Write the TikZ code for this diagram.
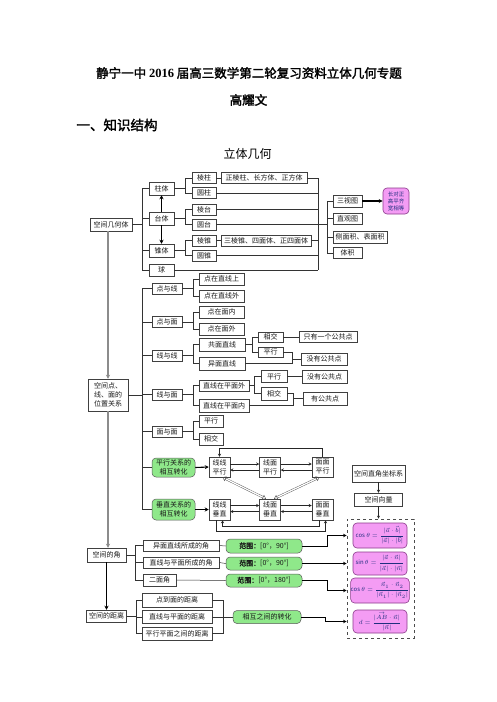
\documentclass[tikz,border=0pt]{standalone}
\usepackage{amsmath}
\usepackage{fontspec}
\setmainfont{Noto Sans CJK SC}[AutoFakeBold=2]
\newfontfamily\tnr{Liberation Serif}
\usepackage{xcolor}
\usepackage{tikz}
\usetikzlibrary{arrows.meta}
\definecolor{trunkgray}{HTML}{8C8C8C}
\definecolor{greenfill}{HTML}{8FE88A}
\definecolor{pinkfill}{HTML}{F49CF4}
\definecolor{pinkdraw}{HTML}{8A3A8A}
\definecolor{formula}{HTML}{1F2F7F}

\begin{document}
\begin{tikzpicture}[x=1pt, y=-1pt,
        box/.style={
            rectangle,
            draw=black!75,
            line width=0.5pt,
            fill=white,
            inner sep=0pt,
            align=center,
            text=black!90,
            font=\fontsize{7}{9}\selectfont,
            minimum height=11pt
        },
        wd/.style={minimum width=#1pt},
        ht/.style={minimum height=#1pt},
        shadowbox/.style={box, line width=0.9pt},
        greenbox/.style={box, rounded corners=4pt, fill=greenfill, draw=black!65},
        pinkbox/.style={
            box,
            rounded corners=4pt,
            fill=pinkfill,
            draw=pinkdraw,
            line width=0.6pt,
            text=formula,
            font=\fontsize{6}{7}\selectfont
        },
        link/.style={draw=black!80, line width=0.5pt},
        trunk/.style={draw=trunkgray, line width=1.6pt, -{Stealth[length=4pt, width=4pt]}},
        arrow/.style={draw=black!85, line width=0.5pt, -{Stealth[length=3pt, width=3pt]}},
        heavy/.style={draw=black, line width=1.1pt, -{Stealth[length=4pt, width=4pt]}},
        farrow/.style={draw=black, line width=0.9pt, -{Stealth[length=3.5pt, width=3.5pt]}},
        hollow/.style={
            draw=black!70,
            line width=0.4pt,
            double=white,
            double distance=1.3pt,
            {Triangle[open, length=3.5pt, width=5pt]}-{Triangle[open, length=3.5pt, width=5pt]}
        }
    ]
        \useasboundingbox (0,0) rectangle (496,702);

        % Title
        \node[font=\fontsize{12.5}{15}\selectfont\bfseries] (title) at (249,73) {静宁一中 {\tnr\bfseries 2016} 届高三数学第二轮复习资料立体几何专题};
        \node[font=\fontsize{12.5}{15}\selectfont\bfseries] (author) at (248.5,100) {高耀文};
        \node[font=\fontsize{13.5}{16}\selectfont\bfseries, anchor=west] (part) at (73,125) {一、知识结构};
        \node[font=\fontsize{12}{14}\selectfont] (head) at (247.5,154) {立体几何};

        % Spines
        \coordinate (s1) at (142,0);
        \coordinate (s2) at (185,0);
        \coordinate (s3) at (318,0);
        \coordinate (s4) at (327,0);
        \coordinate (s5) at (193,0);
        \coordinate (s6) at (252,0);
        \coordinate (s7) at (292,0);
        \coordinate (s8) at (254,0);
        \coordinate (s9) at (293,0);
        \coordinate (s10) at (135,0);
        \coordinate (s11) at (136,0);
        \coordinate (s12) at (223,0);

        % Main column
        \node[box, wd=42, ht=13] (kj) at (111,224.5) {空间几何体};
        \node[box, wd=40, ht=32, align=left] (wz) at (108,395) {空间点、\\线、面的\\位置关系};
        \node[box, wd=39, ht=14] (jiao) at (106.5,555) {空间的角};
        \node[box, wd=40, ht=12] (juli) at (106.5,616) {空间的距离};

        % Solids
        \node[box, wd=25, ht=13] (zt) at (161.5,188.5) {柱体};
        \node[box, wd=25, ht=13] (tt) at (161.5,218.5) {台体};
        \node[box, wd=25, ht=13] (zhui) at (161.5,250.5) {锥体};
        \node[box, wd=25, ht=12] (qiu) at (161.5,270) {球};
        \node[box, wd=24] (lz) at (204,178) {棱柱};
        \node[shadowbox, wd=24] (yz) at (204,193) {圆柱};
        \node[box, wd=24] (lt) at (204,209.5) {棱台};
        \node[shadowbox, wd=24] (yt) at (204,224.5) {圆台};
        \node[box, wd=24] (lzh) at (204,240.5) {棱锥};
        \node[shadowbox, wd=24] (yzh) at (204,255.5) {圆锥};
        \node[box, wd=86] (zlz) at (264,178) {正棱柱、长方体、正方体};
        \node[box, wd=90] (slz) at (266,240.5) {三棱锥、四面体、正四面体};
        \node[box, wd=29, ht=12] (stt) at (347.5,201) {三视图};
        \node[box, wd=29] (zgt) at (347.5,218.5) {直观图};
        \node[shadowbox, wd=54, ht=12] (cmj) at (360,237) {侧面积、表面积};
        \node[box, wd=29] (tj) at (347.5,253) {体积};
        \node[pinkbox, wd=26, ht=26, font=\fontsize{5.5}{7}\selectfont] (szd) at (396,201) {长对正\\高平齐\\宽相等};

        \draw[link] (kj.east) -- (kj.east -| s1);
        \draw[link] (zt.west) -| (qiu.west -| s1) -- (qiu.west);
        \foreach \n in {tt, zhui} \draw[link] (\n.west -| s1) -- (\n.west);
        \draw[heavy] (tt.north) -- (zt.south);
        \draw[heavy] (tt.south) -- (zhui.north);
        \foreach \p/\a/\b in {zt/lz/yz, tt/lt/yt, zhui/lzh/yzh} {
            \draw[link] (\p.east) -- (\p.east -| s2);
            \draw[link] (\a.west) -| (\b.west -| s2) -- (\b.west);
        }
        \draw[link] (lz.east) -- (zlz.west);
        \draw[link] (lzh.east) -- (slz.west);
        \draw[link] (zlz.east) -| (qiu.east -| s3);
        \draw[link, line width=0.9pt] (qiu.east) -- (qiu.east -| s3);
        \foreach \n in {yz, lt, yt, slz, yzh} \draw[link] (\n.east) -- (\n.east -| s3);
        \draw[link] (yt.east -| s3) -- (yt.east -| s4);
        \draw[link] (stt.west) -| (tj.west -| s4) -- (tj.west);
        \foreach \n in {zgt, cmj} \draw[link] (\n.west -| s4) -- (\n.west);
        \draw[heavy] (stt.east) -- (szd.west);

        % Points, lines, planes
        \node[box, wd=30] (dyx) at (167,288.5) {点与线};
        \node[box, wd=30] (dym) at (167,322) {点与面};
        \node[box, wd=30] (xyx) at (167,355.5) {线与线};
        \node[box, wd=30] (xym) at (167,394.5) {线与面};
        \node[box, wd=30] (mym) at (167,431.5) {面与面};
        \node[greenbox, wd=43, ht=19] (pxzh) at (173.5,467.5) {平行关系的\\相互转化};
        \node[greenbox, wd=43, ht=21] (czzh) at (173.5,509.5) {垂直关系的\\相互转化};
        \node[box, wd=45, ht=12] (dzx) at (221.5,279) {点在直线上};
        \node[box, wd=45, ht=12] (dzxw) at (221.5,296) {点在直线外};
        \node[box, wd=45, ht=12] (dzm) at (221.5,312) {点在面内};
        \node[box, wd=45, ht=12] (dzmw) at (221.5,329) {点在面外};
        \node[shadowbox, wd=46, ht=13] (gm) at (222,344.5) {共面直线};
        \node[shadowbox, wd=46, ht=13] (ym) at (222,363.5) {异面直线};
        \node[box, wd=25, ht=10] (xj1) at (270.5,337) {相交};
        \node[shadowbox, wd=25, ht=10] (px1) at (270.5,352) {平行};
        \node[box, wd=58, ht=11] (yg) at (328,337) {只有一个公共点};
        \node[box, wd=46, ht=12] (mg) at (324,359) {没有公共点};
        \node[box, wd=50, ht=11] (zwm) at (224,385.5) {直线在平面外};
        \node[shadowbox, wd=50, ht=13] (znm) at (224,405.5) {直线在平面内};
        \node[box, wd=26, ht=12] (px2) at (274,376.5) {平行};
        \node[box, wd=26, ht=13] (xj2) at (274,393.5) {相交};
        \node[box, wd=45, ht=13] (mg2) at (324.5,376.5) {没有公共点};
        \node[box, wd=44, ht=13] (yg2) at (325,398.5) {有公共点};
        \node[box, wd=24, ht=12] (px3) at (211,421) {平行};
        \node[box, wd=24, ht=12] (xj3) at (211,439) {相交};

        \draw[trunk] (kj.south -| wz.north) -- (wz.north);
        \draw[link] (wz.east) -- (wz.east -| s1);
        \draw[link] (dyx.west) -| (czzh.west -| s1) -- (czzh.west);
        \foreach \n in {dym, xyx, xym, mym, pxzh} \draw[link] (\n.west -| s1) -- (\n.west);
        \foreach \p/\a/\b in {dyx/dzx/dzxw, dym/dzm/dzmw, xyx/gm/ym, xym/zwm/znm, mym/px3/xj3} {
            \draw[link] (\p.east) -- (\p.east -| s5);
            \draw[link] (\a.west) -| (\b.west -| s5) -- (\b.west);
        }
        \draw[link] (gm.east) -- (gm.east -| s6);
        \draw[link] (xj1.west) -| (px1.west -| s6) -- (px1.west);
        \draw[link] (xj1.east) -- (yg.west);
        \draw[link] (px1.east) -| (ym.east -| s7) -- (ym.east);
        \draw[link] (mg.west -| s7) -- (mg.west);
        \draw[link] (zwm.east) -- (zwm.east -| s8);
        \draw[link] (px2.west) -| (xj2.west -| s8) -- (xj2.west);
        \draw[link] (px2.east) -- (mg2.west);
        \draw[link] (xj2.east) -| (znm.east -| s9) -- (znm.east);
        \draw[link] (yg2.west -| s9) -- (yg2.west);

        % Parallel and perpendicular
        \node[box, wd=21, ht=20] (xxpx) at (219.5,467) {线线\\平行};
        \node[box, wd=21, ht=20] (xmpx) at (270,467) {线面\\平行};
        \node[box, wd=21, ht=20] (mmpx) at (322.5,467) {面面\\平行};
        \node[box, wd=21, ht=21] (xxcz) at (219.5,509.5) {线线\\垂直};
        \node[box, wd=21, ht=21] (xmcz) at (270,509.5) {线面\\垂直};
        \node[box, wd=21, ht=21] (mmcz) at (322.5,509.5) {面面\\垂直};

        \draw[heavy] (pxzh.east) -- (xxpx.west);
        \draw[heavy] (czzh.east) -- (xxcz.west);
        \draw[arrow] ([yshift=3pt]xxpx.east) -- ([yshift=3pt]xmpx.west);
        \draw[arrow] ([yshift=-3pt]xmpx.west) -- ([yshift=-3pt]xxpx.east);
        \draw[arrow] ([yshift=3pt]xmpx.east) -- ([yshift=3pt]mmpx.west);
        \draw[arrow] ([yshift=-3pt]mmpx.west) -- ([yshift=-3pt]xmpx.east);
        \draw[arrow] (mmpx.north) -- ++(0,-9) -| (xxpx.north);
        \draw[hollow] ([xshift=3pt]xxpx.south) -- ([xshift=-4pt]xmcz.north);
        \draw[hollow] ([xshift=-3pt]mmpx.south) -- ([xshift=4pt]xmcz.north);
        \draw[arrow, line width=0.9pt] ([yshift=4pt]xxcz.east) -- ([yshift=4pt]xmcz.west);
        \draw[arrow] ([yshift=-2pt]xmcz.west) -- ([yshift=-2pt]xxcz.east);
        \draw[arrow] ([yshift=4pt]xmcz.east) -- ([yshift=4pt]mmcz.west);
        \draw[arrow] ([yshift=-2pt]mmcz.west) -- ([yshift=-2pt]xmcz.east);
        \draw[arrow] ([xshift=-3pt]xxcz.south) -- ++(0,11) -| ([xshift=3pt]mmcz.south);
        \draw[arrow] ([xshift=-3pt]mmcz.south) -- ++(0,6) -| ([xshift=3pt]xxcz.south);

        % Vectors
        \node[box, wd=53, ht=17] (zjzb) at (378.5,473.5) {空间直角坐标系};
        \node[box, wd=48, ht=13] (kjxl) at (378.5,499.5) {空间向量};
        \node[draw=black!70, dashed, line width=0.8pt, minimum width=67pt, minimum height=119pt, inner sep=0pt] (dash) at (380.5,578.5) {};
        \node[pinkbox, wd=54, ht=25] (f1) at (380,535.5) {$\cos\theta=\dfrac{|\vec a\cdot\vec b|}{|\vec a|\cdot|\vec b|}$};
        \node[pinkbox, wd=54, ht=23] (f2) at (380,563.5) {$\sin\theta=\dfrac{|\vec a\cdot\vec n|}{|\vec a|\cdot|\vec n|}$};
        \node[pinkbox, wd=54, ht=25] (f3) at (380,590.5) {$\cos\theta=\dfrac{\vec n_1\cdot\vec n_2}{|\vec n_1|\cdot|\vec n_2|}$};
        \node[pinkbox, wd=54, ht=23] (f4) at (380,621.5) {$d=\dfrac{|\overset{\rightarrow}{AB}\cdot\vec n|}{|\vec n|}$};

        \draw[arrow] (zjzb.south) -- (kjxl.north);
        \draw[arrow] (kjxl.south) -- (kjxl.south |- dash.north);

        % Angles
        \node[box, wd=76] (ymj) at (181,545.5) {异面直线所成的角};
        \node[box, wd=76] (xmj) at (181,562.5) {直线与平面所成的角};
        \node[box, wd=33, ht=12] (emj) at (159.5,580) {二面角};
        \node[greenbox, wd=76, ht=14] (fw1) at (264,546) {\textbf{范围：}[0°，90°]};
        \node[greenbox, wd=76, ht=13] (fw2) at (264,563.5) {\textbf{范围：}[0°，90°]};
        \node[greenbox, wd=76, ht=13] (fw3) at (264,580.5) {\textbf{范围：}[0°，180°]};

        \draw[trunk] (wz.south) -- (wz.south |- jiao.north);
        \draw[link] (jiao.east) -- (jiao.east -| s10);
        \draw[link] (ymj.west) -| (emj.west -| s10) -- (emj.west);
        \draw[link] (xmj.west -| s10) -- (xmj.west);
        \draw[link] (ymj.east) -- (fw1.west);
        \draw[link] (xmj.east) -- (fw2.west);
        \draw[link] (emj.east) -- (fw3.west);
        \draw[farrow] (fw1.east) -- ++(25,0) |- (f1.west -| dash.west);
        \draw[farrow] (fw2.east) -- (f2.west -| dash.west);
        \draw[farrow] (fw3.east) -- ++(25,0) |- (f3.west -| dash.west);

        % Distances
        \node[shadowbox, wd=70, ht=14] (dmj) at (177,600) {点到面的距离};
        \node[shadowbox, wd=70, ht=13] (zmj) at (177,617) {直线与平面的距离};
        \node[box, wd=70, ht=13] (pmj) at (177,633.5) {平行平面之间的距离};
        \node[greenbox, wd=68, ht=13] (hz) at (267,617) {相互之间的转化};

        \draw[heavy] (jiao.south) -- (juli.north);
        \draw[link] (juli.east) -- (juli.east -| s11);
        \draw[link] (dmj.west) -| (pmj.west -| s11) -- (pmj.west);
        \draw[link] (zmj.west -| s11) -- (zmj.west);
        \draw[link] (dmj.east) -| (pmj.east -| s12) -- (pmj.east);
        \draw[link] (zmj.east) -- (zmj.east -| s12);
        \draw[link] (hz.west -| s12) -- (hz.west);
        \draw[farrow] (hz.east) -- ++(24,0) |- (f4.west -| dash.west);
    \end{tikzpicture}
\end{document}
